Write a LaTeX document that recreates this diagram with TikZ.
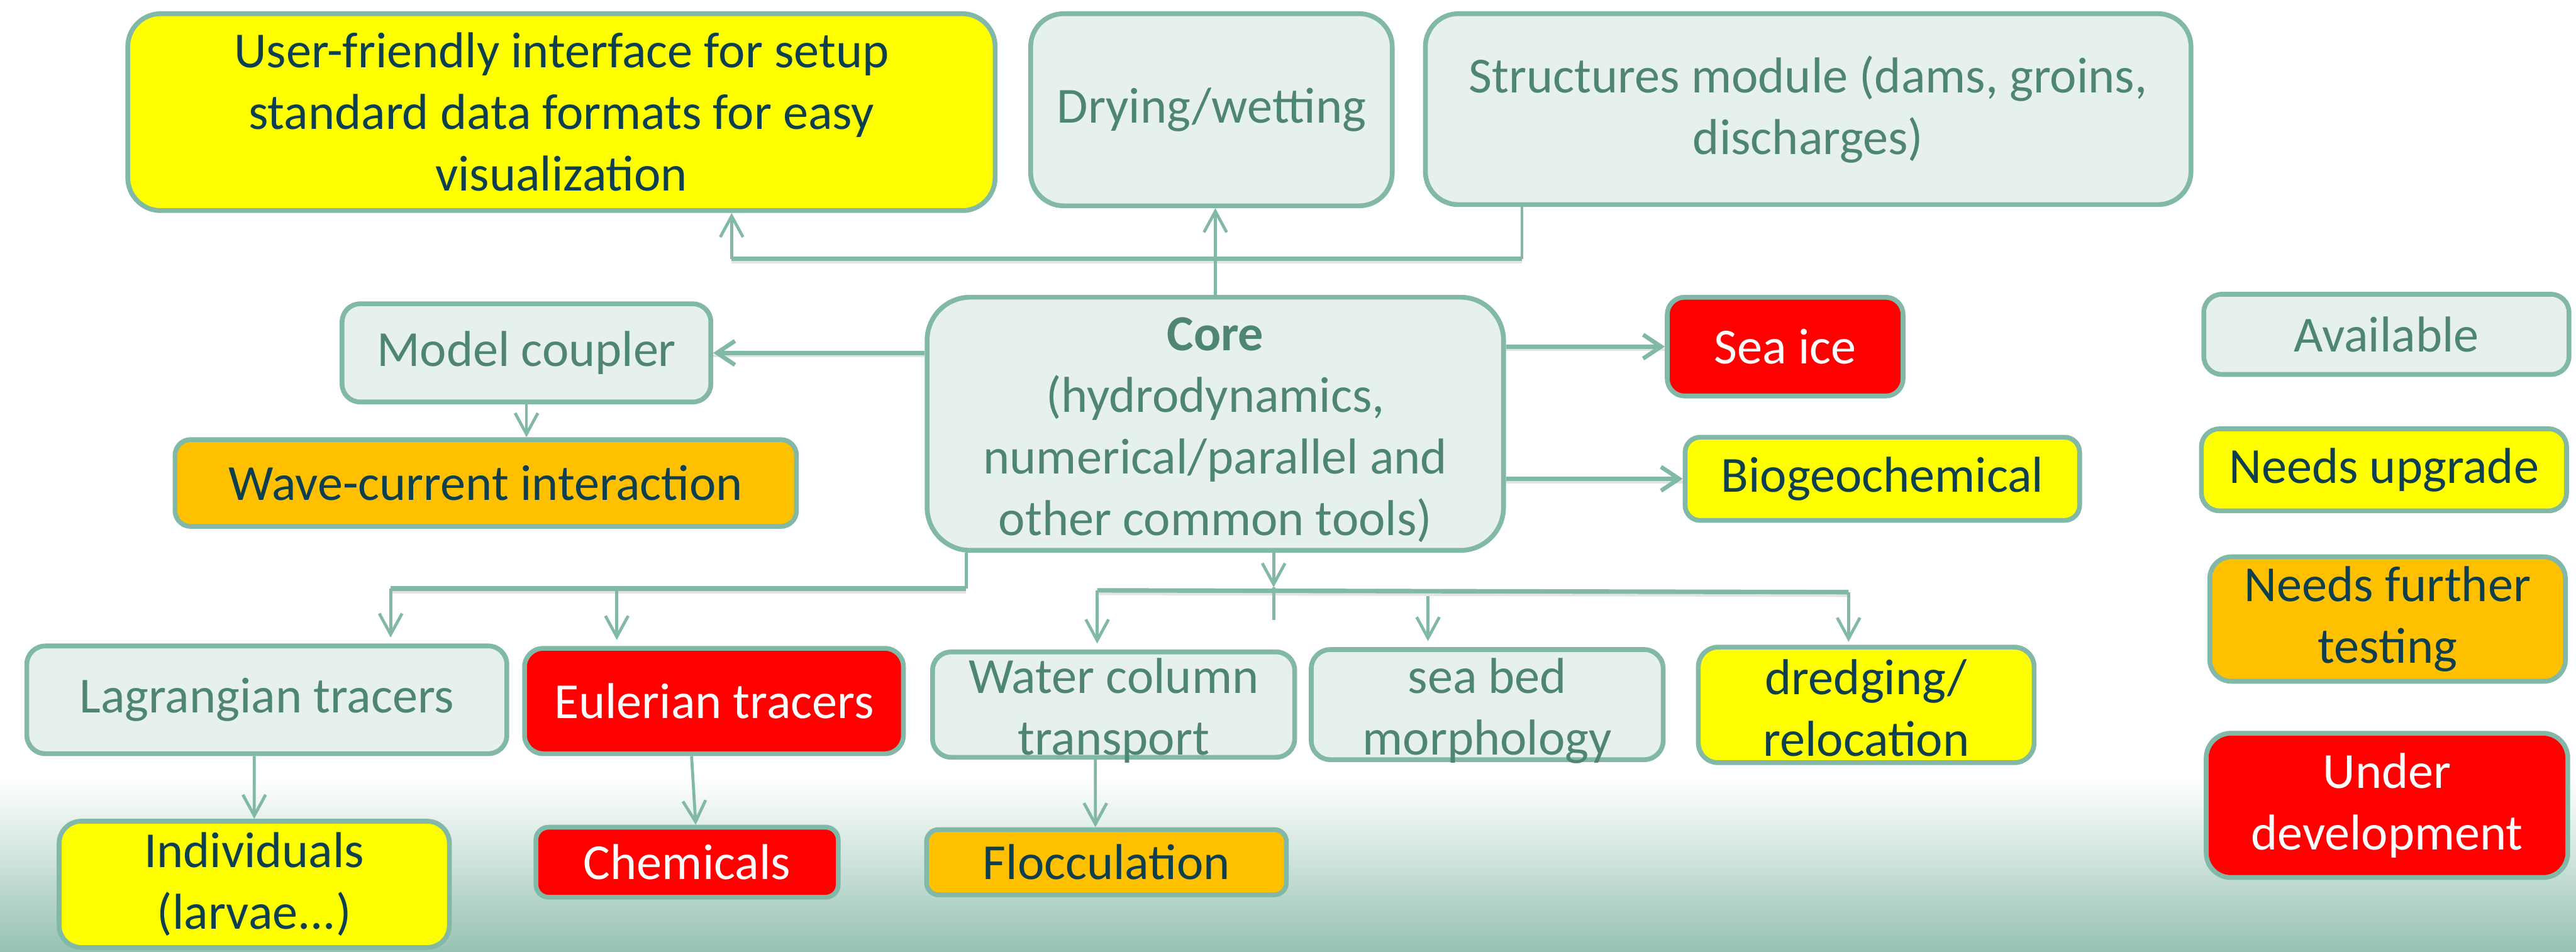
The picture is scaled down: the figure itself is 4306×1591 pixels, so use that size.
\documentclass[tikz,border=0pt]{standalone}
\usepackage{fontspec}
\setmainfont{Carlito}
\usetikzlibrary{arrows.meta}
\definecolor{sage}{HTML}{82B8A7}
\definecolor{availfill}{HTML}{E6F0EC}
\definecolor{availtext}{HTML}{4F8673}
\definecolor{darktext}{HTML}{0E3F4E}
\definecolor{yel}{HTML}{FFFF00}
\definecolor{org}{HTML}{FFC000}
\definecolor{rd}{HTML}{FF0000}
\definecolor{bgbot}{HTML}{97C3B3}
\begin{document}
\begin{tikzpicture}[x=0.01cm,y=-0.01cm,
  box/.style={draw=sage, line width=0.08cm, rectangle, inner sep=0pt},
  avail/.style={box, fill=availfill},
  upg/.style={box, fill=yel},
  tst/.style={box, fill=org},
  dev/.style={box, fill=rd},
  txt/.style={align=center, font=\fontsize{24}{29.3}\selectfont, inner sep=0pt},
  avtxt/.style={txt, text=availtext},
  dktxt/.style={txt, text=darktext},
  wttxt/.style={txt, text=white},
  conn/.style={draw=sage, line width=0.05cm},
  bar/.style={draw=sage, line width=0.075cm,
    preaction={draw=black!30, opacity=0.35, line width=0.06cm, transform canvas={yshift=-0.05cm}}},
  arr/.style={conn, -{Straight Barb[length=0.35cm, width=0.38cm]}},
  arrT/.style={draw=sage, line width=0.07cm, -{Straight Barb[length=0.3cm, width=0.4cm]},
    preaction={draw=black!30, opacity=0.35, line width=0.05cm, transform canvas={yshift=-0.05cm}, -}}
]
\useasboundingbox (0,0) rectangle (4306,1591);
\fill[white] (0,0) rectangle (4306,1591);
\shade[top color=white, bottom color=bgbot] (0,1300) rectangle (4306,1591);

% top row
\node[upg, minimum width=14.49cm, minimum height=3.29cm, rounded corners=0.55cm] (UF) at (938.5,187.5) {};
\node[dktxt] at (UF.center) {User-friendly interface for setup\\standard data formats for easy\\visualization};
\node[avail, minimum width=6.04cm, minimum height=3.21cm, rounded corners=0.55cm] (DW) at (2025,183.5) {};
\node[avtxt] at (DW.center) {Drying/wetting};
\node[avail, minimum width=12.79cm, minimum height=3.19cm, rounded corners=0.55cm] (ST) at (3022.5,182.5) {};
\node[avtxt] at (ST.center) {Structures module (dams, groins,\\discharges)};

% middle row
\node[avail, minimum width=6.16cm, minimum height=1.64cm, rounded corners=0.3cm] (MC) at (880,590) {};
\node[avtxt] at (MC.center) {Model coupler};
\node[tst, minimum width=10.38cm, minimum height=1.45cm, rounded corners=0.26cm] (WC) at (812,807.5) {};
\node[dktxt] at (WC.center) {Wave-current interaction};
\node[avail, minimum width=9.63cm, minimum height=4.23cm, rounded corners=0.72cm] (Core) at (2031.5,708.5) {};
\node[avtxt] at ([yshift=-0.1cm]Core.center) {\textbf{Core}\\(hydrodynamics,\\numerical/parallel and\\other common tools)};
\node[dev, minimum width=3.94cm, minimum height=1.65cm, rounded corners=0.29cm] (SI) at (2984,579.5) {};
\node[wttxt] at (SI.center) {Sea ice};
\node[upg, minimum width=6.59cm, minimum height=1.39cm, rounded corners=0.25cm] (BG) at (3146.5,800.5) {};
\node[dktxt] at (BG.center) {Biogeochemical};

% lower row
\node[avail, minimum width=8.02cm, minimum height=1.80cm, rounded corners=0.31cm] (LT) at (446,1170) {};
\node[avtxt] at (LT.center) {Lagrangian tracers};
\node[dev, minimum width=6.33cm, minimum height=1.76cm, rounded corners=0.31cm] (ET) at (1193.5,1172) {};
\node[wttxt] at (ET.center) {Eulerian tracers};
\node[avail, minimum width=6.05cm, minimum height=1.76cm, rounded corners=0.31cm] (WCT) at (1861.5,1178) {};
\node[avtxt] at ([yshift=-0.1cm]WCT.center) {Water column\\transport};
\node[avail, minimum width=5.88cm, minimum height=1.84cm, rounded corners=0.32cm] (SB) at (2486,1178) {};
\node[avtxt] at ([yshift=-0.1cm]SB.center) {sea bed\\morphology};
\node[upg, minimum width=5.61cm, minimum height=1.93cm, rounded corners=0.33cm] (DR) at (3119.5,1178.5) {};
\node[dktxt] at ([yshift=-0.05cm]DR.center) {dredging/\\relocation};

% bottom row
\node[upg, minimum width=6.52cm, minimum height=2.11cm, rounded corners=0.37cm] (IN) at (425,1478.5) {};
\node[dktxt] at (IN.center) {Individuals\\(larvae...)};
\node[dev, minimum width=5.05cm, minimum height=1.17cm, rounded corners=0.21cm] (CH) at (1148.5,1441.5) {};
\node[wttxt] at (CH.center) {Chemicals};
\node[tst, minimum width=6.01cm, minimum height=1.09cm, rounded corners=0.2cm] (FL) at (1849.5,1441.5) {};
\node[dktxt] at (FL.center) {Flocculation};

% legend
\node[avail, minimum width=6.10cm, minimum height=1.34cm, rounded corners=0.3cm] (AV) at (3989,559) {};
\node[avtxt] at (AV.center) {Available};
\node[upg, minimum width=6.10cm, minimum height=1.37cm, rounded corners=0.3cm] (NU) at (3985,785.5) {};
\node[dktxt] at (NU.center) {Needs upgrade};
\node[tst, minimum width=5.94cm, minimum height=2.08cm, rounded corners=0.36cm] (NF) at (3991,1035) {};
\node[dktxt] at (NF.center) {Needs further\\testing};
\node[dev, minimum width=6.04cm, minimum height=2.41cm, rounded corners=0.41cm] (UD) at (3990,1346.5) {};
\node[wttxt] at (UD.center) {Under\\development};

% connectors: top
\coordinate (t1) at (2544,433);
\coordinate (t2) at (1223,433);
\draw[conn] (ST.south -| t1) -- (t1);
\draw[bar] (t1) -- (t2);
\draw[arr] (t2) -- (UF.south -| t2);
\draw[arr] (Core.north) -- (Core.north |- DW.south);

% connectors: sides
\draw[arrT] (Core.west |- MC.east) -- (MC.east);
\draw[arrT] (Core.east |- SI.west) -- (SI.west);
\draw[arrT] (Core.east |- BG.west) -- (BG.west);
\draw[arr] (MC.south) -- (MC.south |- WC.north);

% connectors: left branch
\coordinate (l0) at (1615,984);
\coordinate (l1) at (653,984);
\coordinate (l2) at (1031,984);
\draw[conn] (Core.south -| l0) -- (l0);
\draw[bar] (l0) -- (l1);
\draw[arr, shorten >=0.1cm] (l1) -- (l1 |- LT.north);
\draw[arr, shorten >=0.1cm] (l2) -- (l2 |- ET.north);

% connectors: centre branch
\coordinate (c0) at (2129,982);
\coordinate (c1) at (2129,1037);
\coordinate (r1) at (1834,987);
\coordinate (r2) at (3090,990);
\coordinate (r3) at (2387,997);
\draw[arr] (Core.south -| c0) -- (c0);
\draw[conn] (c0) -- (c1);
\draw[bar] (r1) -- (r2);
\draw[arr, shorten >=0.1cm] (r1) -- (r1 |- WCT.north);
\draw[arr, shorten >=0.1cm] (r3) -- (r3 |- SB.north);
\draw[arr, shorten >=0.05cm] (r2) -- (r2 |- DR.north);

% connectors: bottom
\draw[arr] ([xshift=-0.21cm]LT.south) -- (IN.north);
\draw[arr] ([xshift=-0.375cm]ET.south) -- ([xshift=0.145cm]CH.north);
\draw[arr] ([xshift=-0.305cm]WCT.south) -- ([xshift=-0.185cm]FL.north);
\end{tikzpicture}
\end{document}
